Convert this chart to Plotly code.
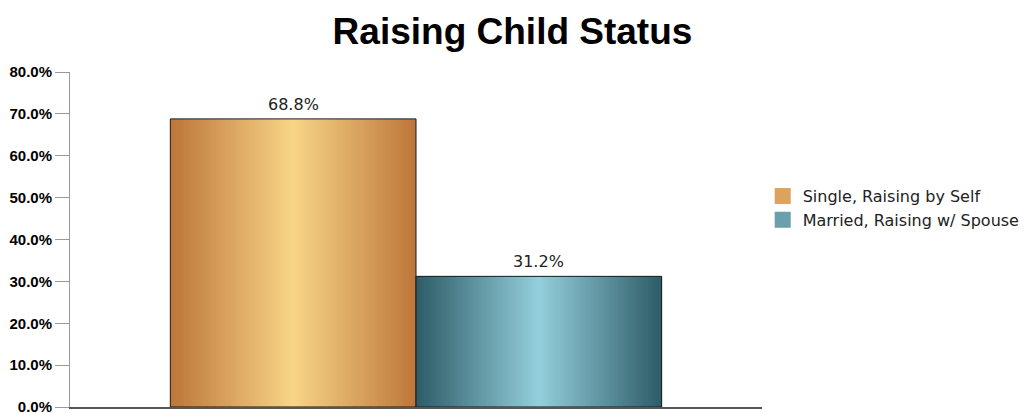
import numpy as np
import plotly.graph_objects as go

# Chart data
title_text = "Raising Child Status"
series_names = ["Single, Raising by Self", "Married, Raising w/ Spouse"]
series_values = [0.688, 0.312]
# gradient stops: (edge colour, centre colour) for each series
series_edge_colors = [(189, 119, 58), (46, 93, 104)]
series_center_colors = [(248, 213, 135), (148, 207, 220)]
legend_colors = ["#DCA25E", "#6B9FAB"]

# Layout of the single category group on a numeric x axis [0, 1]
group_center = 0.5
bar_gap = 0.29
bar_width = (1 - bar_gap) / len(series_values)
n_slices = 90

fig = go.Figure()


def gradient_colors(edge, center, n):
    # symmetric horizontal gradient: edge -> centre -> edge
    t = np.linspace(-1, 1, n)
    w = np.abs(t)
    cols = []
    for wi in w:
        r, g, b = [int(round(c + (e - c) * wi)) for e, c in zip(edge, center)]
        cols.append(f"rgb({r},{g},{b})")
    return cols


annotations = []
group_left = group_center - bar_width * len(series_values) / 2
for i, (name, val) in enumerate(zip(series_names, series_values)):
    left = group_left + i * bar_width
    slice_w = bar_width / n_slices
    xs = left + slice_w * np.arange(n_slices)
    # each slice overlaps the next one so no seams appear between them
    widths = [slice_w * 2] * (n_slices - 1) + [slice_w]
    fig.add_trace(go.Bar(
        x=xs, y=[val] * n_slices, width=widths, offset=0,
        marker=dict(color=gradient_colors(series_edge_colors[i], series_center_colors[i], n_slices),
                    line=dict(width=0)),
        showlegend=False, hoverinfo="skip",
    ))
    # outline of the bar
    fig.add_trace(go.Bar(
        x=[left + bar_width / 2], y=[val], width=[bar_width],
        marker=dict(color="rgba(0,0,0,0)", line=dict(color="#1a1a1a", width=1)),
        showlegend=False, name=name, hovertemplate=f"{name}: %{{y:.1%}}<extra></extra>",
    ))
    # value label above the bar
    annotations.append(dict(
        x=left + bar_width / 2, y=val, xref="x", yref="y",
        text=f"{val * 100:.1f}%", showarrow=False, yanchor="bottom", yshift=3,
        font=dict(family="DejaVu Sans, Verdana", size=16, color="#222"),
    ))
    # legend entry
    fig.add_trace(go.Scatter(
        x=[None], y=[None], mode="markers", name=name,
        marker=dict(symbol="square", size=16, color=legend_colors[i], line=dict(width=0)),
        showlegend=True,
    ))

fig.update_layout(
    width=1025, height=413,
    barmode="overlay",
    paper_bgcolor="white", plot_bgcolor="white",
    margin=dict(l=70, r=263, t=72, b=6, autoexpand=False),
    annotations=annotations,
    title=dict(text=title_text, x=0.5, xref="container", xanchor="center",
               y=0.925, yref="container", yanchor="middle",
               font=dict(family="Liberation Sans, Arial", size=37, color="black", weight="bold")),
    legend=dict(x=1.001, xanchor="left", y=0.594, yanchor="middle",
                font=dict(family="DejaVu Sans, Verdana", size=16, color="#222"),
                traceorder="normal", itemclick=False, tracegroupgap=0),
    xaxis=dict(range=[0, 1], showticklabels=False, ticks="", showgrid=False, zeroline=False,
               showline=True, linecolor="#555", linewidth=2, fixedrange=True, automargin=False),
    yaxis=dict(range=[0, 0.8], dtick=0.1, tickformat=".1%", showgrid=False, zeroline=False,
               showline=True, linecolor="#9a9a9a", linewidth=1, automargin=False,
               ticks="outside", ticklen=14, tickcolor="#9a9a9a", ticklabeloverflow="allow",
               tickfont=dict(family="Liberation Sans, Arial", size=15, color="black", weight="bold"),
               fixedrange=True),
)

fig.write_html("out.html")
